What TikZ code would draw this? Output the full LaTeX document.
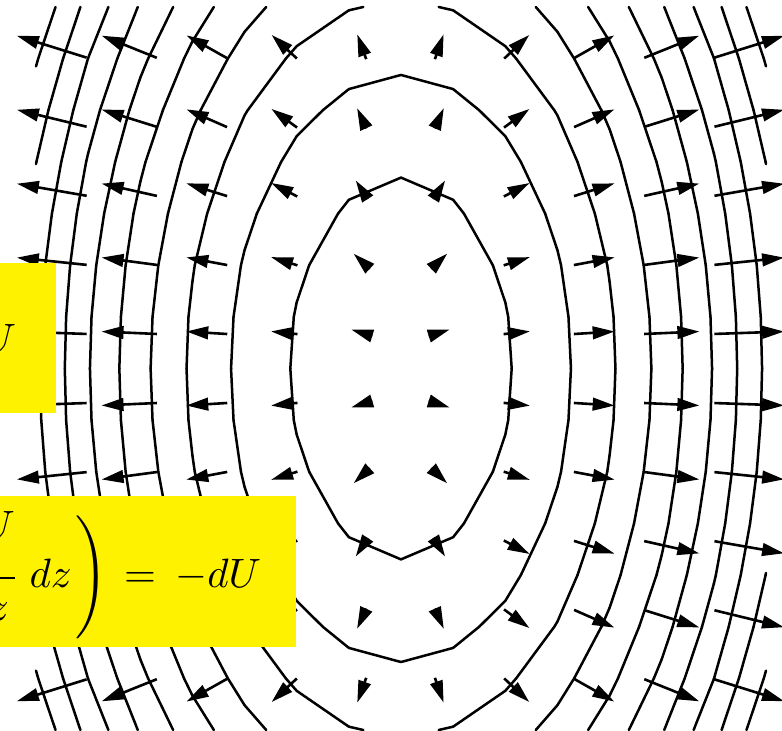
\documentclass[tikz,border=0pt]{standalone}
\usepackage{amsmath}
\usetikzlibrary{arrows.meta}
\newcount\npts
\tikzset{
  contour/.style={line width=1.25pt, line cap=round, line join=round, black},
  vec/.style={line width=1.3pt, -{Triangle[length=11pt,width=6.3pt]}, black},
  hl/.style={fill=yellow, draw=none},
  eq/.style={anchor=base east, inner sep=0pt, scale=2.05},
}
\newcommand\msedge[6]{%
  \pgfmathparse{((#3)-\lev)*((#6)-\lev)<0 ? 1 : 0}%
  \ifdim\pgfmathresult pt>0.5pt
    \pgfmathsetmacro\tpar{(\lev-(#3))/((#6)-(#3))}%
    \pgfmathsetmacro\qx{(#1)+\tpar*((#4)-(#1))}%
    \pgfmathsetmacro\qy{(#2)+\tpar*((#5)-(#2))}%
    \ifnum\npts=0 \xdef\Pa{(\qx,\qy)}\else\xdef\Pb{(\qx,\qy)}\fi
    \global\advance\npts by 1
  \fi}
\newcommand\fval[3]{%
  \pgfmathsetmacro\ddx{((#2)-401)/100}%
  \pgfmathsetmacro\ddy{((#3)-368.5)/100}%
  \pgfmathsetmacro#1{\ddx*\ddx+\ddy*\ddy/2.95}}
\begin{document}
\begin{tikzpicture}[x=0.5pt,y=-0.5pt]
\useasboundingbox (0,0) rectangle (782,731);
\clip (0,0) rectangle (782,731);
% contour lines (marching squares on a 14x14 mesh)
\foreach \i in {0,...,13}{
  \foreach \j in {0,...,13}{
    \pgfmathsetmacro\xa{36+52.142857*\i}
    \pgfmathsetmacro\xb{\xa+52.142857}
    \pgfmathsetmacro\ya{7+51.642857*\j}
    \pgfmathsetmacro\yb{\ya+51.642857}
    \fval\faa\xa\ya
    \fval\fba\xb\ya
    \fval\fab\xa\yb
    \fval\fbb\xb\yb
    \foreach \lev in {1.2544,2.9404,4.6264,6.3124,7.9984,9.6844,11.3704,13.0564,14.7424,16.4284}{
      \global\npts=0
      \msedge{\xa}{\ya}{\faa}{\xb}{\ya}{\fba}
      \msedge{\xb}{\ya}{\fba}{\xb}{\yb}{\fbb}
      \msedge{\xb}{\yb}{\fbb}{\xa}{\yb}{\fab}
      \msedge{\xa}{\yb}{\fab}{\xa}{\ya}{\faa}
      \ifnum\npts=2 \draw[contour] \Pa -- \Pb; \fi
    }
  }
}
% gradient arrows
\foreach \i in {0,...,9}{
  \foreach \j in {0,...,9}{
    \pgfmathsetmacro\cx{51.75+77.5*\i}
    \pgfmathsetmacro\cy{46.75+71.5*\j}
    \pgfmathsetmacro\wx{\cx-401}
    \pgfmathsetmacro\wy{(\cy-368.5)/2.95}
    \pgfmathsetmacro\mag{veclen(\wx,\wy)}
    \pgfmathsetmacro\len{max(4.76+0.1865*\mag,22)}
    \pgfmathsetmacro\sx{\cx-\wx/\mag*\len/2}
    \pgfmathsetmacro\sy{\cy-\wy/\mag*\len/2}
    \pgfmathsetmacro\ex{\cx+\wx/\mag*\len/2}
    \pgfmathsetmacro\ey{\cy+\wy/\mag*\len/2}
    \draw[vec] (\sx,\sy) -- (\ex,\ey);
  }
}
% yellow formula boxes
\fill[hl] (-10,263) rectangle (56,413);
\node[eq] (t1) at (17,353) {$U$};
\fill[hl] (-10,496) rectangle (296,647);
\node[eq] (t2) at (262,588) {$\dfrac{\partial U\rule[-8pt]{0pt}{8pt}}{\partial z\rule{0pt}{9pt}}\kern2.4pt dz\kern1pt\Bigg)\kern3.85pt{=}\kern4.75pt{-}dU$};
\end{tikzpicture}
\end{document}
